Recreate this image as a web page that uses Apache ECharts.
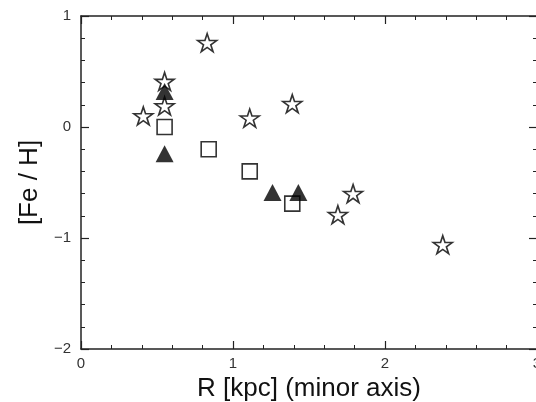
<!DOCTYPE html>
<html>
<head>
<meta charset="utf-8">
<script src="https://cdn.jsdelivr.net/npm/echarts@6/dist/echarts.min.js"></script>
<style>
html,body{margin:0;padding:0;background:#fff;}
#chart{width:536px;height:402px;}
</style>
</head>
<body>
<div id="chart"></div>
<script>
// Data
var starR = [0.41, 0.55, 0.55, 0.83, 1.11, 1.39, 1.69, 1.79, 2.38];
var starFeH = [0.10, 0.41, 0.19, 0.76, 0.08, 0.21, -0.79, -0.60, -1.06];
var squareR = [0.55, 0.84, 1.11, 1.39];
var squareFeH = [0.00, -0.20, -0.40, -0.69];
var triR = [0.55, 0.55, 1.26, 1.43];
var triFeH = [0.32, -0.24, -0.59, -0.59];

var xTicks = [0, 1, 2, 3];
var yTicks = [-2, -1, 0, 1];
var xName = 'R [kpc] (minor axis)';
var yName = '[Fe / H]';

function pairs(xs, ys) {
  return xs.map(function (x, i) { return [x, ys[i]]; });
}

var starPath = 'path://M50,0 L61.23,34.55 L97.55,34.55 L68.16,55.9 L79.39,90.45 L50,69.1 L20.61,90.45 L31.84,55.9 L2.45,34.55 L38.77,34.55 Z';

var axisCol = '#222';
function baseAxis(extra) {
  var a = {
    type: 'value',
    interval: 1,
    splitLine: { show: false },
    axisLine: { show: true, onZero: false, lineStyle: { color: axisCol, width: 1.5 } },
    axisTick: { show: true, inside: true, length: 8, lineStyle: { color: axisCol, width: 1.2 } },
    minorTick: { show: true, splitNumber: 5, length: 4, lineStyle: { color: axisCol, width: 1 } },
    minorSplitLine: { show: false }
  };
  for (var k in extra) a[k] = extra[k];
  return a;
}

function fmt(v) { return v < 0 ? '\u2212' + (-v) : String(v); }
var labelStyle = { fontFamily: 'Liberation Sans', fontSize: 15, color: '#333' };

var chart = echarts.init(document.getElementById('chart'), null, { renderer: 'canvas' });
chart.setOption({
  backgroundColor: '#fff',
  animation: false,
  grid: { left: 81, top: 16, width: 456, height: 333, containLabel: false, outerBoundsMode: 'none' },
  xAxis: [
    baseAxis({
      min: xTicks[0], max: xTicks[xTicks.length - 1], position: 'bottom',
      name: xName, nameLocation: 'middle', nameGap: 23,
      nameTextStyle: { fontFamily: 'Liberation Sans', fontSize: 26, color: '#111' },
      axisLabel: Object.assign({ margin: 7, formatter: fmt }, labelStyle)
    }),
    baseAxis({
      min: xTicks[0], max: xTicks[xTicks.length - 1], position: 'top',
      axisLabel: { show: false }
    })
  ],
  yAxis: [
    baseAxis({
      min: yTicks[0], max: yTicks[yTicks.length - 1], position: 'left',
      name: yName, nameLocation: 'middle', nameGap: 38, nameRotate: 90,
      nameTextStyle: { fontFamily: 'Liberation Sans', fontSize: 26, color: '#111' },
      axisLabel: Object.assign({ margin: 10, formatter: fmt }, labelStyle)
    }),
    baseAxis({
      min: yTicks[0], max: yTicks[yTicks.length - 1], position: 'right',
      axisLabel: { show: false }
    })
  ],
  series: [
    {
      name: 'squares', type: 'scatter', data: pairs(squareR, squareFeH),
      symbol: 'rect', symbolSize: 15,
      itemStyle: { color: '#fff', borderColor: '#000', borderWidth: 1.6 }
    },
    {
      name: 'stars', type: 'scatter', data: pairs(starR, starFeH),
      symbol: starPath, symbolSize: [19, 18],
      itemStyle: { color: '#fff', borderColor: '#000', borderWidth: 1.6 }
    },
    {
      name: 'triangles', type: 'scatter', data: pairs(triR, triFeH),
      symbol: 'triangle', symbolSize: [18, 17],
      itemStyle: { color: '#000', borderColor: '#000', borderWidth: 0 }
    }
  ]
});
</script>
</body>
</html>
